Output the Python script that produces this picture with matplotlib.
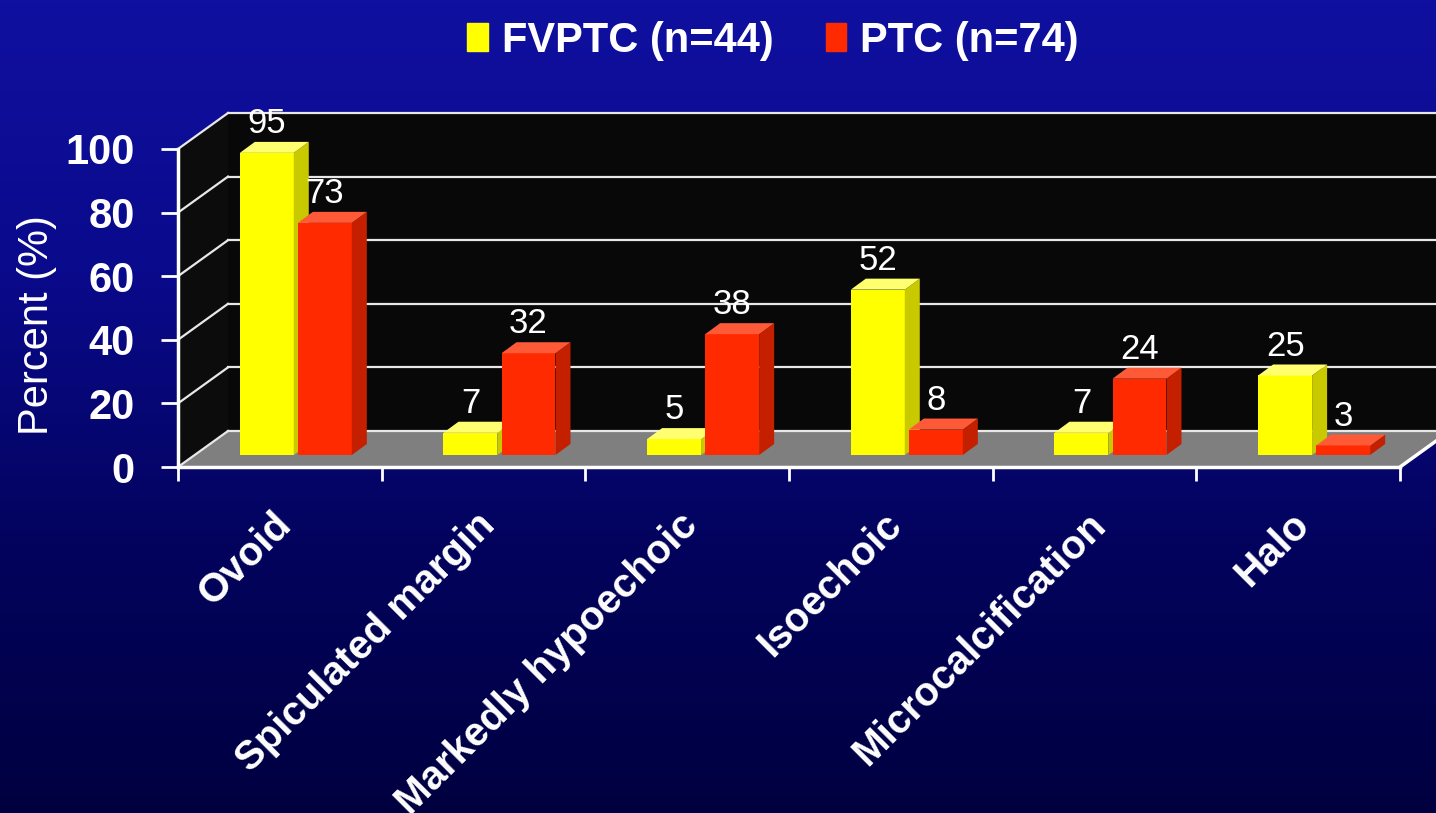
import matplotlib
matplotlib.use('Agg')
import matplotlib.pyplot as plt
import matplotlib.patches as mpatches
from matplotlib.colors import LinearSegmentedColormap
from matplotlib.transforms import ScaledTranslation
import numpy as np

plt.rcParams['font.family'] = ['Liberation Sans', 'DejaVu Sans']

# data
categories = ['Ovoid', 'Spiculated margin', 'Markedly hypoechoic',
              'Isoechoic', 'Microcalcification', 'Halo']
fvptc = [95, 7, 5, 52, 7, 25]
ptc = [73, 32, 38, 8, 24, 3]
series_names = ['FVPTC (n=44)', 'PTC (n=74)']
y_ticks = [0, 20, 40, 60, 80, 100]

# (front, side, top) shades
YELLOW = ('#ffff00', '#c9c900', '#ffff70')
RED = ('#ff2a00', '#c42000', '#ff5a38')

W, H = 1436, 813
fig = plt.figure(figsize=(W / 100, H / 100), dpi=100)

# dark blue gradient background
bg = fig.add_axes([0, 0, 1, 1])
cmap = LinearSegmentedColormap.from_list('bg', ['#1010a0', '#0a0a8c', '#03035e', '#000040'])
bg.imshow(np.linspace(0, 1, 256)[:, None], aspect='auto', cmap=cmap, extent=[0, 1, 0, 1])
bg.axis('off')

ax = fig.add_axes([178 / W, 1 - 467 / H, (1400 - 178) / W, (467 - 149) / H])
n = len(categories)
ax.set_xlim(0, n)
ax.set_ylim(0, 100)
ax.patch.set_alpha(0)

# oblique "3D" depth of the floor/walls and of the bars (data units)
px_x = (1400 - 178) / n
px_y = (467 - 149) / 100
DXF, DYF = 50 / px_x, 36 / px_y      # floor depth
OXB, OYB = 17 / px_x, 12 / px_y      # bar front offset
DXB, DYB = 15 / px_x, 11 / px_y      # bar depth
BW = 0.265

kw = dict(clip_on=False, zorder=1)
ax.add_patch(mpatches.Polygon([(DXF, DYF), (n + DXF, DYF), (n + DXF, 100 + DYF), (DXF, 100 + DYF)],
                              fc='#080808', ec='none', **kw))
ax.add_patch(mpatches.Polygon([(0, 0), (0, 100), (DXF, 100 + DYF), (DXF, DYF)],
                              fc='#0c0c0c', ec='none', **kw))
ax.add_patch(mpatches.Polygon([(0, 0), (n, 0), (n + DXF, DYF), (DXF, DYF)],
                              fc='#7f7f7f', ec='none', **kw))
for v in y_ticks:
    ax.plot([DXF, n + DXF], [v + DYF] * 2, color='#e8e8e8', lw=1.6, clip_on=False, zorder=1.5)
    ax.plot([0, DXF], [v, v + DYF], color='#e8e8e8', lw=1.6, clip_on=False, zorder=1.5)
ax.plot([n, n + DXF], [0, DYF], color='white', lw=2.5, clip_on=False, zorder=1.5)

xs = np.arange(n) + 0.5
for s, (vals, cols, shift) in enumerate([(fvptc, YELLOW, -0.28), (ptc, RED, 0.005)]):
    x0s = xs + shift + OXB
    bars = ax.bar(x0s, vals, width=BW, bottom=OYB, align='edge', color=cols[0], linewidth=0)
    for i, (rect, v) in enumerate(zip(bars, vals)):
        z = 3 + i * 0.1 + s * 0.05
        rect.set_zorder(z)
        x0, x1 = rect.get_x(), rect.get_x() + rect.get_width()
        y0, y1 = rect.get_y(), rect.get_y() + rect.get_height()
        side = mpatches.Polygon([(x1, y0), (x1, y1), (x1 + DXB, y1 + DYB), (x1 + DXB, y0 + DYB)],
                                fc=cols[1], ec='none', zorder=z, clip_on=False)
        top = mpatches.Polygon([(x0, y1), (x1, y1), (x1 + DXB, y1 + DYB), (x0 + DXB, y1 + DYB)],
                               fc=cols[2], ec='none', zorder=z, clip_on=False)
        ax.add_patch(side)
        ax.add_patch(top)
        ax.text((x0 + x1) / 2, y1 + DYB + 2.8, f'{v}', ha='center', va='baseline',
                color='white', fontsize=25, zorder=10, clip_on=False)

# axes styling
for side_name in ['top', 'right']:
    ax.spines[side_name].set_visible(False)
for side_name in ['left', 'bottom']:
    ax.spines[side_name].set_color('white')
    ax.spines[side_name].set_linewidth(2.5)
    ax.spines[side_name].set_zorder(2)

ax.set_yticks(y_ticks)
ax.tick_params(axis='y', colors='white', length=12, width=2, labelsize=30, pad=19)
for t in ax.get_yticklabels():
    t.set_fontweight('bold')
ax.set_xticks(np.arange(n + 1))
ax.set_xticklabels([])
ax.tick_params(axis='x', colors='white', length=10, width=2)

ax.set_ylabel('Percent (%)', color='white', fontsize=30)
ax.yaxis.set_label_coords(-0.099, 0.447)

lab_off = ScaledTranslation(0.05, -0.52, fig.dpi_scale_trans)
for x, name in zip(xs, categories):
    ax.text(x, 0, name, transform=ax.get_xaxis_transform() + lab_off,
            rotation=45, rotation_mode='anchor', ha='right', va='center',
            color='white', fontsize=29, fontweight='bold', clip_on=False)

handles = [mpatches.Patch(color=YELLOW[0]), mpatches.Patch(color=RED[0])]
fig.legend(handles, series_names, loc='center', bbox_to_anchor=(773 / W, 1 - 41 / H),
           ncol=2, frameon=False, labelcolor='white',
           handlelength=0.5, handleheight=0.65, handletextpad=0.33, columnspacing=1.25,
           prop={'weight': 'bold', 'size': 30})

fig.savefig('out.png', dpi=100)
